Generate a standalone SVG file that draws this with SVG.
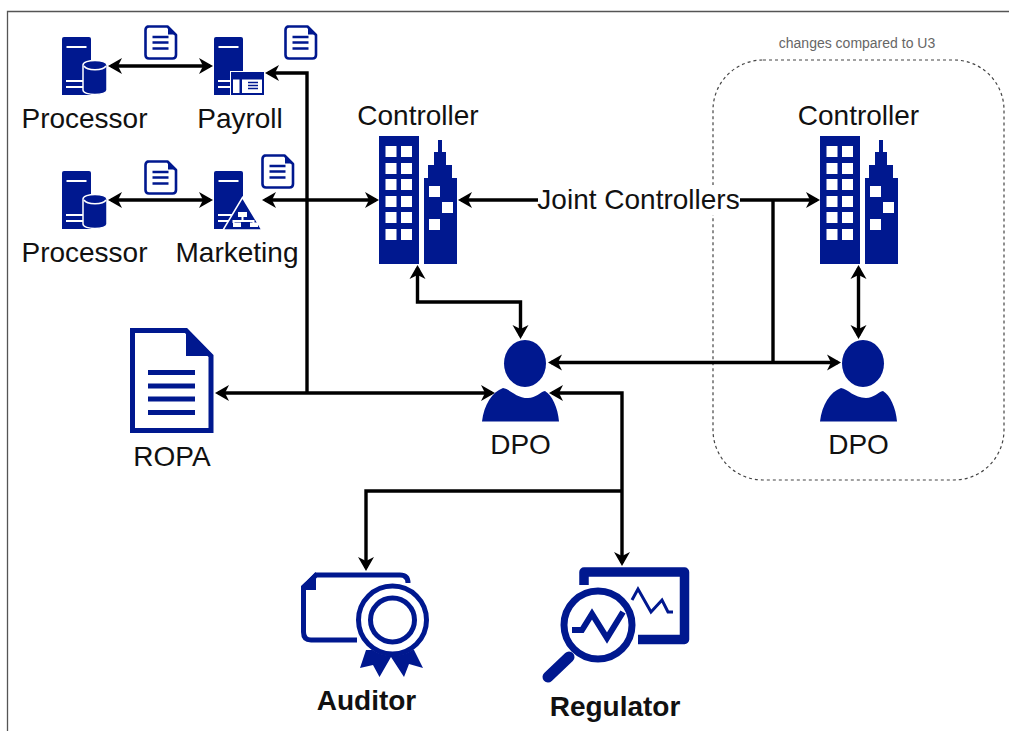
<svg xmlns="http://www.w3.org/2000/svg" width="1009" height="731" viewBox="0 0 1009 731">
<style>
text{font-family:"Liberation Sans",Arial,sans-serif;font-size:28px;fill:#111;text-anchor:middle}
.b{font-weight:bold}
.n{fill:#00188f}
.w{fill:#fff}
.c{fill:none;stroke:#000;stroke-width:3.4}
.s{fill:none;stroke:#00188f}
</style>
<defs>
<marker id="ah" markerUnits="userSpaceOnUse" markerWidth="20" markerHeight="20" viewBox="-14 -10 20 20" refX="0" refY="0" orient="auto-start-reverse"><path d="M-11 -8L3 0L-11 8L-7 0Z" fill="#000"/></marker>
<symbol id="doc" overflow="visible"><path d="M3.500 1.500H23.500L32 10V30Q32 33.500 28.500 33.500H5Q1.500 33.500 1.500 30V5Q1.500 1.500 5 1.500Z" class="s" stroke-width="2.600" fill="#fff" stroke-linejoin="round"/><path d="M24 1.500V9.500H32Z" class="n"/><path d="M8.500 12H24.500M8.500 17.500H24.500M8.500 23.500H24.500" class="s" stroke-width="2.400"/></symbol>
<symbol id="server" overflow="visible"><path d="M2 0H27Q29 0 29 2V58H0V2Q0 0 2 0Z" class="n"/><path d="M4.500 10H24.500M4 44H22M4 50H22" stroke="#fff" stroke-width="2" fill="none"/></symbol>
<symbol id="cyl" overflow="visible"><path d="M0 5C0 -1 24 -1 24 5V30C24 36 0 36 0 30Z" class="n" stroke="#fff" stroke-width="1.500"/><path d="M1 6C4 11 20 11 23 6" fill="none" stroke="#fff" stroke-width="1.500"/></symbol>
<symbol id="building" overflow="visible"><rect width="40" height="128" class="n"/><g class="w"><rect x="6.500" y="10" width="11" height="11"/><rect x="22" y="10" width="11" height="11"/><rect x="6.500" y="27" width="11" height="11"/><rect x="22" y="27" width="11" height="11"/><rect x="6.500" y="43" width="11" height="11"/><rect x="22" y="43" width="11" height="11"/><rect x="6.500" y="60" width="11" height="11"/><rect x="22" y="60" width="11" height="11"/><rect x="6.500" y="76" width="11" height="11"/><rect x="22" y="76" width="11" height="11"/><rect x="6.500" y="93" width="11" height="11"/><rect x="22" y="93" width="11" height="11"/></g><path d="M45 128V42H49V29H55V16H59V4H63V16H67V29H73V42H78V128Z" class="n"/><g class="w"><rect x="50" y="50" width="11" height="11"/><rect x="63" y="66" width="11" height="11"/><rect x="50" y="83" width="11" height="11"/></g></symbol>
<symbol id="person" overflow="visible"><ellipse cx="43" cy="23.500" rx="21" ry="23.500" class="n"/><path d="M0 81.500C2 65 10 52 21 48C28 49 34 58 46 58C54 58 58 52 63 51C70 55 76 68 77 81.500Z" class="n"/></symbol>
</defs>
<rect width="1009" height="731" fill="#fff"/>
<path d="M7.500 731V11.500H1009" fill="none" stroke="#555" stroke-width="1.300"/>
<g id="change-region">
<rect x="713" y="60" width="291" height="420" rx="50" ry="50" fill="none" stroke="#444" stroke-width="1.200" stroke-dasharray="3 3"/>
<text x="857" y="48" style="font-size:14px;fill:#666">changes compared to U3</text>
</g>
<g id="connectors">
<path class="c" marker-start="url(#ah)" marker-end="url(#ah)" d="M111 66H210"/>
<path class="c" marker-start="url(#ah)" marker-end="url(#ah)" d="M111 200H210"/>
<path class="c" marker-start="url(#ah)" d="M268 73H307V393"/>
<path class="c" marker-start="url(#ah)" marker-end="url(#ah)" d="M265 200H376"/>
<path class="c" marker-start="url(#ah)" marker-end="url(#ah)" d="M218 393H492"/>
<path class="c" marker-start="url(#ah)" d="M461 200H540"/>
<path class="c" marker-end="url(#ah)" d="M738 200H817"/>
<path class="c" d="M773 200V362.500"/>
<path class="c" marker-start="url(#ah)" marker-end="url(#ah)" d="M551 362.500H838"/>
<path class="c" marker-start="url(#ah)" marker-end="url(#ah)" d="M417.500 268V302H520.500V336"/>
<path class="c" marker-start="url(#ah)" marker-end="url(#ah)" d="M858.500 268V336"/>
<path class="c" marker-start="url(#ah)" marker-end="url(#ah)" d="M552 393H622V563"/>
<path class="c" marker-end="url(#ah)" d="M622 491H366V568"/>
</g>
<g id="processor-1"><use href="#server" x="62" y="37"/><use href="#cyl" x="83" y="60"/><text x="84.500" y="128">Processor</text></g>
<g id="processor-2"><use href="#server" x="62" y="171"/><use href="#cyl" x="83" y="194"/><text x="84.500" y="262">Processor</text></g>
<g id="payroll"><use href="#server" x="214" y="37"/><rect x="230.500" y="71.500" width="34" height="24" class="n" stroke="#fff"/><rect x="233" y="79.500" width="6.500" height="13.500" class="w"/><rect x="242" y="79.500" width="20" height="13.500" class="w"/><path d="M248 82.500H258M248 85.500H258M248 88.500H258" class="s" stroke-width="1.500"/><text x="240" y="128">Payroll</text></g>
<g id="marketing"><use href="#server" x="214" y="171"/><path d="M242.500 197.500L262 230H223Z" class="n" stroke="#fff" stroke-width="1.500"/><path d="M238 212H247V217H238ZM233 222.500H241V227H233ZM250 222.500H258V227H250ZM241.500 217H243.500V220H254.500V223H252.500V222H234.500V223H232.500V220H241.500Z" class="w"/><text x="237" y="262">Marketing</text></g>
<g id="doc-1"><use href="#doc" x="144" y="25"/></g>
<g id="doc-2"><use href="#doc" x="284" y="25"/></g>
<g id="doc-3"><use href="#doc" x="144" y="160"/></g>
<g id="doc-4"><use href="#doc" x="261" y="154"/></g>
<g id="controller-left"><use href="#building" x="379" y="136"/><text x="418" y="125">Controller</text></g>
<g id="controller-right"><use href="#building" x="820" y="136"/><text x="858.500" y="125">Controller</text></g>
<g id="joint-label"><rect x="538" y="185" width="202" height="30" fill="#fff"/><text x="638.500" y="209">Joint Controllers</text></g>
<g id="dpo-left"><use href="#person" x="482" y="340"/><text x="520.500" y="454">DPO</text></g>
<g id="dpo-right"><use href="#person" x="820" y="340"/><text x="858.500" y="454">DPO</text></g>
<g id="ropa"><path d="M132.500 330.500H186L211 356V430.500H132.500Z" fill="#fff" class="s" stroke-width="5"/><path d="M186 328L213 356H186Z" class="n"/><path d="M148 372.500H195M148 386H195M148 399H195M148 412.500H195" class="s" stroke-width="5"/><text x="172" y="466">ROPA</text></g>
<g id="auditor"><path d="M357 640H311Q303.500 640 303.500 632V588L316 575H400Q408 575 408 583" class="s" stroke-width="5"/><path d="M301 586L316 572V590H301Z" class="n"/><path d="M366 650L360 668L373 665L379.500 677L391 657L404 677L409 664L423 668L414 650Z" class="n"/><circle cx="392.500" cy="620" r="36" class="w"/><circle cx="392.500" cy="620" r="34" class="s" stroke-width="5"/><circle cx="392.500" cy="620" r="22" class="s" stroke-width="5"/><text class="b" x="366.500" y="710">Auditor</text></g>
<g id="regulator"><path d="M584 585V572H684.500V639.500H638" class="s" stroke-width="9.500" stroke-linejoin="round"/><path d="M632 600L638 589L651 612L662 600L668 612L673 612" class="s" stroke-width="3"/><circle cx="598" cy="625" r="40" class="w"/><circle cx="598" cy="625" r="34" class="s" stroke-width="7"/><path d="M569 657L548 677" class="s" stroke-width="11" stroke-linecap="round"/><path d="M572 630H582L592 614L607 638L623 612" class="s" stroke-width="6"/><text class="b" x="615" y="716">Regulator</text></g>
</svg>
